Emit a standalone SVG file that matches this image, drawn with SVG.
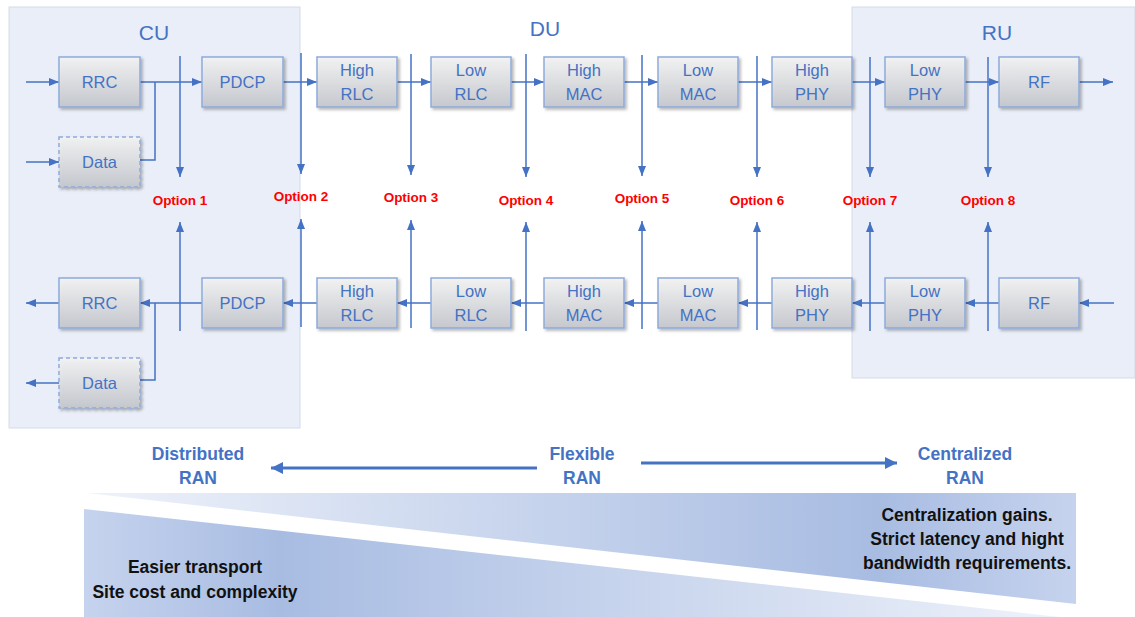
<svg xmlns="http://www.w3.org/2000/svg" width="1135" height="617" viewBox="0 0 1135 617">
<style>
.bg{fill:#e9eef8;stroke:#d6dbe4;stroke-width:1}
.box{fill:url(#boxg);stroke:#8eaadb;stroke-width:1.5;filter:url(#sh)}
.dash{stroke-dasharray:4 3}
.bt{font-family:"Liberation Sans",Arial,sans-serif;font-size:16.5px;fill:#4472c4;text-anchor:middle}
.title{font-family:"Liberation Sans",Arial,sans-serif;font-size:21px;fill:#4472c4;text-anchor:middle}
.opt{font-family:"Liberation Sans",Arial,sans-serif;font-size:13.5px;font-weight:bold;fill:#ff0000;text-anchor:middle}
.ran{font-family:"Liberation Sans",Arial,sans-serif;font-size:17.5px;font-weight:bold;fill:#4472c4;text-anchor:middle}
.wt{font-family:"Liberation Sans",Arial,sans-serif;font-size:17.5px;font-weight:bold;fill:#111111;text-anchor:middle}
.c{fill:none;stroke:#4472c4;stroke-width:1.5}
.ca{marker-end:url(#ah)}
.big{fill:none;stroke:#4472c4;stroke-width:3;marker-end:url(#bh)}
</style>
<defs>
<linearGradient id="boxg" x1="0" y1="0" x2="0" y2="1">
<stop offset="0" stop-color="#f5f5f5" stop-opacity="0.9"/>
<stop offset="1" stop-color="#c4c7cd" stop-opacity="0.9"/>
</linearGradient>
<linearGradient id="wu" x1="87" y1="0" x2="1076" y2="0" gradientUnits="userSpaceOnUse">
<stop offset="0" stop-color="#eef2fa"/>
<stop offset="0.8" stop-color="#a8bce2"/>
<stop offset="1" stop-color="#c6d3ee"/>
</linearGradient>
<linearGradient id="wl" x1="84" y1="0" x2="1060" y2="0" gradientUnits="userSpaceOnUse">
<stop offset="0" stop-color="#c6d3ee"/>
<stop offset="0.2" stop-color="#a8bce2"/>
<stop offset="1" stop-color="#eef2fa"/>
</linearGradient>
<filter id="sh" x="-10%" y="-10%" width="130%" height="140%">
<feDropShadow dx="2" dy="2" stdDeviation="1.5" flood-color="#000" flood-opacity="0.3"/>
</filter>
<marker id="ah" viewBox="0 0 10 8" refX="10" refY="4" markerWidth="10" markerHeight="8" markerUnits="userSpaceOnUse" orient="auto">
<path d="M0,0 L10,4 L0,8 Z" fill="#4472c4"/>
</marker>
<marker id="bh" viewBox="0 0 12 12" refX="12" refY="6" markerWidth="12" markerHeight="12" markerUnits="userSpaceOnUse" orient="auto">
<path d="M0,0 L12,6 L0,12 Z" fill="#4472c4"/>
</marker>
</defs>
<rect width="1135" height="617" fill="#ffffff"/>
<g id="cu-area"><rect class="bg" x="9" y="7" width="291" height="421"/><text class="title" x="154" y="40">CU</text></g>
<g id="ru-area"><rect class="bg" x="852" y="7" width="283" height="371"/><text class="title" x="997" y="40">RU</text></g>
<g id="du-label"><text class="title" x="545" y="36">DU</text></g>

<g id="connectors">
<line class="c ca" x1="26" y1="82" x2="59" y2="82"/>
<line class="c ca" x1="26" y1="162" x2="59" y2="162"/>
<line class="c ca" x1="140" y1="82" x2="202" y2="82"/>
<path class="c" d="M140,160 H155 V82"/>
<line class="c ca" x1="283" y1="82" x2="317" y2="82"/>
<line class="c ca" x1="397" y1="82" x2="431" y2="82"/>
<line class="c ca" x1="511" y1="82" x2="544" y2="82"/>
<line class="c ca" x1="624" y1="82" x2="658" y2="82"/>
<line class="c ca" x1="738" y1="82" x2="772" y2="82"/>
<line class="c ca" x1="852" y1="82" x2="885" y2="82"/>
<line class="c ca" x1="965" y1="82" x2="999" y2="82"/>
<line class="c ca" x1="1079" y1="82" x2="1113" y2="82"/>

<line class="c ca" x1="1114" y1="303" x2="1079" y2="303"/>
<line class="c ca" x1="999" y1="303" x2="965" y2="303"/>
<line class="c ca" x1="885" y1="303" x2="852" y2="303"/>
<line class="c ca" x1="772" y1="303" x2="738" y2="303"/>
<line class="c ca" x1="658" y1="303" x2="624" y2="303"/>
<line class="c ca" x1="544" y1="303" x2="511" y2="303"/>
<line class="c ca" x1="431" y1="303" x2="397" y2="303"/>
<line class="c ca" x1="317" y1="303" x2="283" y2="303"/>
<line class="c ca" x1="202" y1="303" x2="140" y2="303"/>
<path class="c" d="M140,380 H155 V303"/>
<line class="c ca" x1="59" y1="303" x2="26" y2="303"/>
<line class="c ca" x1="59" y1="383" x2="26" y2="383"/>

<line class="c ca" x1="180" y1="56" x2="180" y2="177"/>
<line class="c ca" x1="301" y1="53" x2="301" y2="174"/>
<line class="c ca" x1="411" y1="54" x2="411" y2="175"/>
<line class="c ca" x1="526" y1="54" x2="526" y2="177"/>
<line class="c ca" x1="642" y1="55" x2="642" y2="176"/>
<line class="c ca" x1="757" y1="56" x2="757" y2="177"/>
<line class="c ca" x1="870" y1="57" x2="870" y2="177"/>
<line class="c ca" x1="988" y1="57" x2="988" y2="177"/>

<line class="c ca" x1="180" y1="331" x2="180" y2="222"/>
<line class="c ca" x1="301" y1="327" x2="301" y2="219"/>
<line class="c ca" x1="411" y1="328" x2="411" y2="220"/>
<line class="c ca" x1="526" y1="331" x2="526" y2="222"/>
<line class="c ca" x1="642" y1="329" x2="642" y2="221"/>
<line class="c ca" x1="757" y1="330" x2="757" y2="222"/>
<line class="c ca" x1="870" y1="331" x2="870" y2="222"/>
<line class="c ca" x1="988" y1="331" x2="988" y2="222"/>

<line class="big" x1="537" y1="468" x2="271" y2="468"/>
<line class="big" x1="641" y1="463" x2="897" y2="463"/>
</g>

<g id="rrc-top"><rect class="box" x="59" y="57" width="81" height="50"/><text class="bt" x="99.5" y="88">RRC</text></g>
<g id="data-top"><rect class="box dash" x="59" y="137" width="81" height="50"/><text class="bt" x="99.5" y="168">Data</text></g>
<g id="pdcp-top"><rect class="box" x="202" y="57" width="81" height="50"/><text class="bt" x="242.5" y="88">PDCP</text></g>
<g id="highrlc-top"><rect class="box" x="317" y="57" width="80" height="50"/><text class="bt" x="357" y="76">High</text><text class="bt" x="357" y="100">RLC</text></g>
<g id="lowrlc-top"><rect class="box" x="431" y="57" width="80" height="50"/><text class="bt" x="471" y="76">Low</text><text class="bt" x="471" y="100">RLC</text></g>
<g id="highmac-top"><rect class="box" x="544" y="57" width="80" height="50"/><text class="bt" x="584" y="76">High</text><text class="bt" x="584" y="100">MAC</text></g>
<g id="lowmac-top"><rect class="box" x="658" y="57" width="80" height="50"/><text class="bt" x="698" y="76">Low</text><text class="bt" x="698" y="100">MAC</text></g>
<g id="highphy-top"><rect class="box" x="772" y="57" width="80" height="50"/><text class="bt" x="812" y="76">High</text><text class="bt" x="812" y="100">PHY</text></g>
<g id="lowphy-top"><rect class="box" x="885" y="57" width="80" height="50"/><text class="bt" x="925" y="76">Low</text><text class="bt" x="925" y="100">PHY</text></g>
<g id="rf-top"><rect class="box" x="999" y="57" width="80" height="50"/><text class="bt" x="1039" y="88">RF</text></g>

<g id="rrc-bot"><rect class="box" x="59" y="278" width="81" height="50"/><text class="bt" x="99.5" y="309">RRC</text></g>
<g id="data-bot"><rect class="box dash" x="59" y="358" width="81" height="50"/><text class="bt" x="99.5" y="389">Data</text></g>
<g id="pdcp-bot"><rect class="box" x="202" y="278" width="81" height="50"/><text class="bt" x="242.5" y="309">PDCP</text></g>
<g id="highrlc-bot"><rect class="box" x="317" y="278" width="80" height="50"/><text class="bt" x="357" y="297">High</text><text class="bt" x="357" y="321">RLC</text></g>
<g id="lowrlc-bot"><rect class="box" x="431" y="278" width="80" height="50"/><text class="bt" x="471" y="297">Low</text><text class="bt" x="471" y="321">RLC</text></g>
<g id="highmac-bot"><rect class="box" x="544" y="278" width="80" height="50"/><text class="bt" x="584" y="297">High</text><text class="bt" x="584" y="321">MAC</text></g>
<g id="lowmac-bot"><rect class="box" x="658" y="278" width="80" height="50"/><text class="bt" x="698" y="297">Low</text><text class="bt" x="698" y="321">MAC</text></g>
<g id="highphy-bot"><rect class="box" x="772" y="278" width="80" height="50"/><text class="bt" x="812" y="297">High</text><text class="bt" x="812" y="321">PHY</text></g>
<g id="lowphy-bot"><rect class="box" x="885" y="278" width="80" height="50"/><text class="bt" x="925" y="297">Low</text><text class="bt" x="925" y="321">PHY</text></g>
<g id="rf-bot"><rect class="box" x="999" y="278" width="80" height="50"/><text class="bt" x="1039" y="309">RF</text></g>

<g id="options">
<text class="opt" x="180" y="205">Option 1</text>
<text class="opt" x="301" y="201">Option 2</text>
<text class="opt" x="411" y="202">Option 3</text>
<text class="opt" x="526" y="205">Option 4</text>
<text class="opt" x="642" y="203">Option 5</text>
<text class="opt" x="757" y="205">Option 6</text>
<text class="opt" x="870" y="205">Option 7</text>
<text class="opt" x="988" y="205">Option 8</text>
</g>

<g id="ran-labels">
<text class="ran" x="198" y="460">Distributed</text><text class="ran" x="198" y="484">RAN</text>
<text class="ran" x="582" y="460">Flexible</text><text class="ran" x="582" y="484">RAN</text>
<text class="ran" x="965" y="460">Centralized</text><text class="ran" x="965" y="484">RAN</text>
</g>

<g id="wedge-upper">
<polygon points="87,493 1076,493 1076,604" fill="url(#wu)"/>
<text class="wt" x="967" y="521">Centralization gains.</text>
<text class="wt" x="967" y="545">Strict latency and hight</text>
<text class="wt" x="967" y="569">bandwidth requirements.</text>
</g>
<g id="wedge-lower">
<polygon points="84,509 1060,617 84,617" fill="url(#wl)"/>
<text class="wt" x="195" y="573">Easier transport</text>
<text class="wt" x="195" y="598">Site cost and complexity</text>
</g>
</svg>
